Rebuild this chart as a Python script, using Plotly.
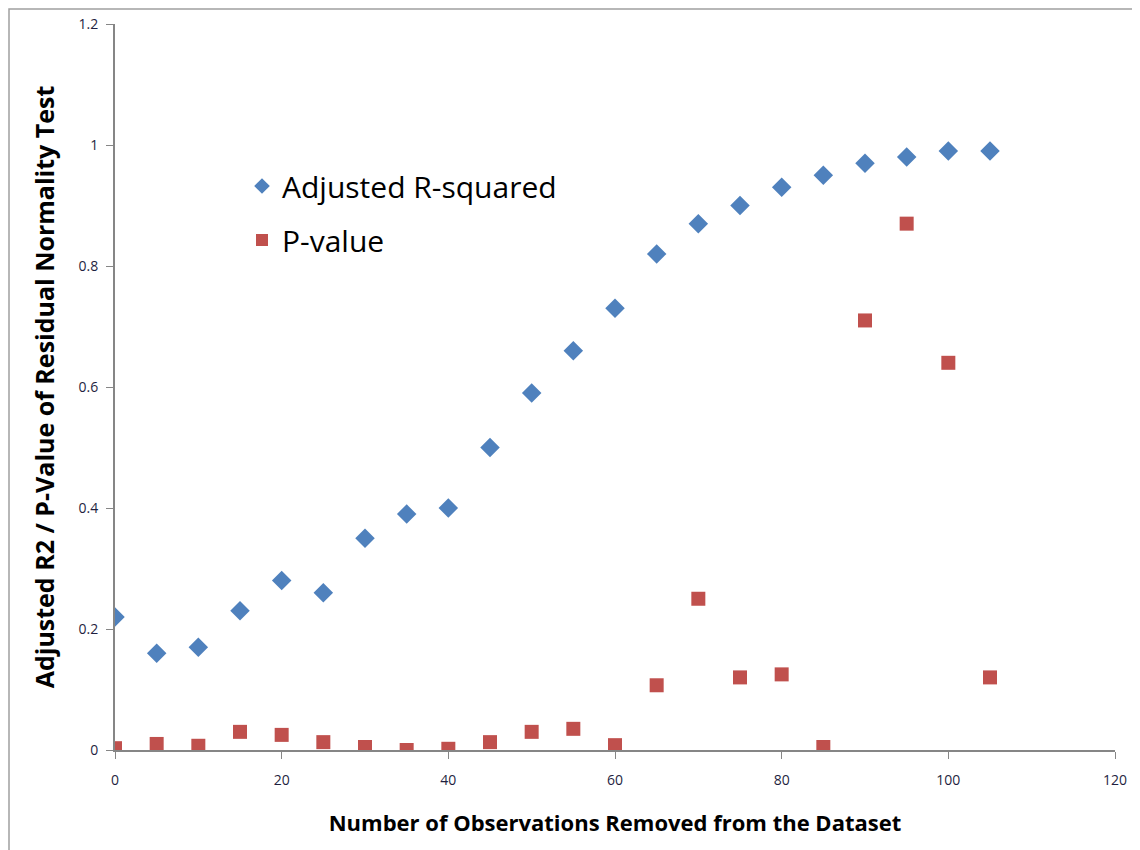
import plotly.graph_objects as go

x_removed = [0, 5, 10, 15, 20, 25, 30, 35, 40, 45, 50, 55, 60, 65, 70, 75, 80, 85, 90, 95, 100, 105]
adj_r2 = [0.22, 0.16, 0.17, 0.23, 0.28, 0.26, 0.35, 0.39, 0.40, 0.50, 0.59, 0.66, 0.73, 0.82, 0.87, 0.90,
          0.93, 0.95, 0.97, 0.98, 0.99, 0.99]
p_value = [0.003, 0.01, 0.007, 0.03, 0.025, 0.013, 0.005, 0.0, 0.002, 0.013, 0.03, 0.035, 0.008, 0.107,
           0.25, 0.12, 0.125, 0.005, 0.71, 0.87, 0.64, 0.12]
x_ticks = [0, 20, 40, 60, 80, 100, 120]
y_ticks = [0, 0.2, 0.4, 0.6, 0.8, 1.0, 1.2]
y_tick_text = ["0", "0.2", "0.4", "0.6", "0.8", "1", "1.2"]

W, H = 1140, 850
L, T = 107, 16
pw, ph = 1000, 726
R, B = W - L - pw, H - T - ph


def px(xf):
    return (xf - L) / pw


def py(yf):
    return (H - B - yf) / ph


fig = go.Figure()
fig.add_trace(go.Scatter(
    x=x_removed, y=adj_r2, mode="markers", name="Adjusted R-squared", legendgroup="a",
    marker=dict(symbol="diamond", size=15, color="#4F81BD"),
))
fig.add_trace(go.Scatter(
    x=x_removed, y=p_value, mode="markers", name="P-value", legendgroup="b",
    marker=dict(symbol="square", size=14, color="#C0504D"),
))

font_family = "Open Sans, Liberation Sans, sans-serif"

fig.update_layout(
    width=W, height=H,
    margin=dict(l=L, r=R, t=T, b=B, autoexpand=False),
    paper_bgcolor="white", plot_bgcolor="white",
    font=dict(family=font_family, color="#000000"),
    showlegend=True,
    legend=dict(
        x=px(234), y=py(152), xanchor="left", yanchor="top",
        font=dict(size=30, color="#000000", family=font_family),
        bgcolor="rgba(0,0,0,0)", traceorder="grouped", tracegroupgap=12,
        itemsizing="constant",
    ),
    xaxis=dict(
        range=[0, 120], tickvals=x_ticks, ticks="outside", ticklen=7, tickcolor="#868686",
        showline=True, linecolor="#868686", linewidth=2, showgrid=False, zeroline=False,
        tickfont=dict(size=14, color="#1F1F3F"), ticklabelstandoff=9, automargin=False,
        title=dict(text="<b>Number of Observations Removed from the Dataset</b>",
                   font=dict(size=22, color="#000000"), standoff=28),
    ),
    yaxis=dict(
        range=[0, 1.2], tickvals=y_ticks, ticktext=y_tick_text, ticks="outside", ticklen=7,
        tickcolor="#868686", showline=True, linecolor="#868686", linewidth=2,
        showgrid=False, zeroline=False, automargin=False,
        tickfont=dict(size=14, color="#1F1F3F"), ticklabelstandoff=5,
        title=dict(text="<b>Adjusted R2 / P-Value of Residual Normality Test</b>",
                   font=dict(size=25, color="#000000"), standoff=17),
    ),
    shapes=[dict(
        type="rect", xref="paper", yref="paper",
        x0=px(1), x1=px(1139), y0=py(849), y1=py(1),
        line=dict(color="#A0A0A0", width=1.5), fillcolor="rgba(0,0,0,0)", layer="below",
    )],
)

fig.write_html("out.html")
